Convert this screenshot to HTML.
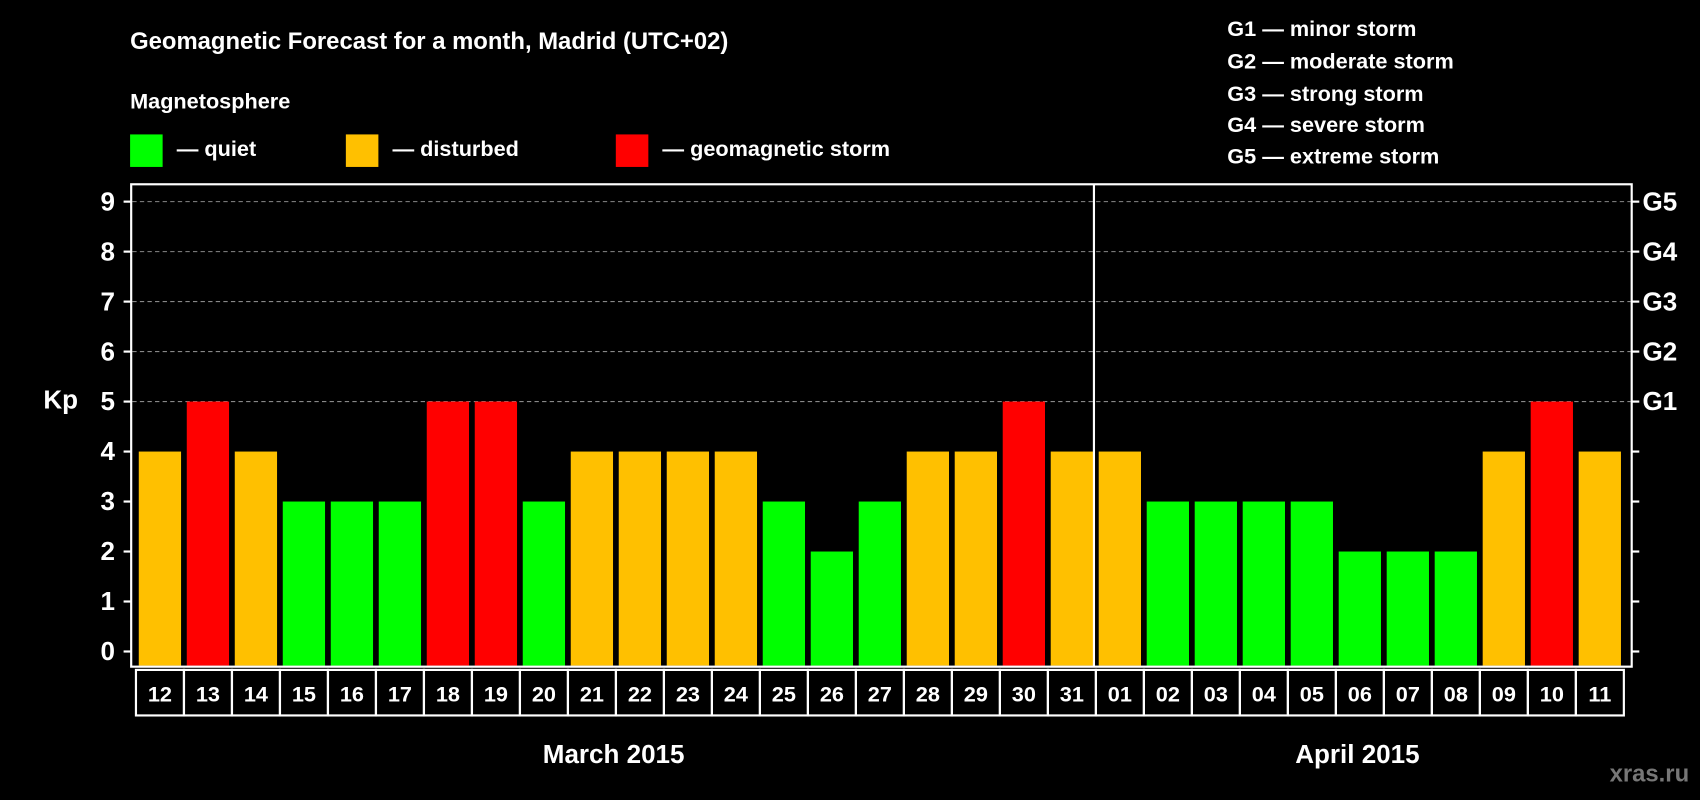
<!DOCTYPE html>
<html><head><meta charset="utf-8"><style>
html,body{margin:0;padding:0;background:#000;}
svg{display:block;font-family:"Liberation Sans",Arial,sans-serif;font-weight:bold;}
</style></head><body>
<svg id="chart" width="1700" height="800" viewBox="0 0 1568 738" preserveAspectRatio="none" xmlns="http://www.w3.org/2000/svg">
<rect width="1568" height="738" fill="#000"/>
<text x="120" y="45" fill="#fff" font-size="22">Geomagnetic Forecast for a month, Madrid (UTC+02)</text>
<text x="120" y="100" fill="#fff" font-size="20">Magnetosphere</text>
<g><rect x="120" y="124" width="30" height="30" fill="#00ff00"/><text x="163" y="144" fill="#fff" font-size="20">— quiet</text></g>
<g><rect x="319" y="124" width="30" height="30" fill="#ffc000"/><text x="362" y="144" fill="#fff" font-size="20">— disturbed</text></g>
<g><rect x="568" y="124" width="30" height="30" fill="#ff0000"/><text x="611" y="144" fill="#fff" font-size="20">— geomagnetic storm</text></g>
<g fill="#fff" font-size="20">
<text x="1132" y="33">G1 — minor storm</text>
<text x="1132" y="63">G2 — moderate storm</text>
<text x="1132" y="93">G3 — strong storm</text>
<text x="1132" y="122">G4 — severe storm</text>
<text x="1132" y="151">G5 — extreme storm</text>
</g>
<text x="40" y="377" fill="#fff" font-size="24">Kp</text>
<g id="grid"></g>
<g id="bars"></g>
<rect x="121" y="170" width="1384" height="445" fill="none" stroke="#fff" stroke-width="2"/>
<g id="axes"></g>
<g id="xlabels"></g>
<text x="566" y="704" fill="#fff" font-size="24" text-anchor="middle">March 2015</text>
<text x="1252" y="704" fill="#fff" font-size="24" text-anchor="middle">April 2015</text>
<text x="1558" y="721" fill="#777" font-size="22" text-anchor="end">xras.ru</text>
</svg>
<script>
const days = ["12","13","14","15","16","17","18","19","20","21","22","23","24","25","26","27","28","29","30","31","01","02","03","04","05","06","07","08","09","10","11"];
const kpValues = [4,5,4,3,3,3,5,5,3,4,4,4,4,3,2,3,4,4,5,4,4,3,3,3,3,2,2,2,4,5,4];
const yTicks = [0,1,2,3,4,5,6,7,8,9];
const gLabels = ["","","","","","G1","G2","G3","G4","G5"];
const NS="http://www.w3.org/2000/svg";
const y = v => 601 - v*46.11;
const xc = i => 147.5 + i*44.27;
const color = v => v>=5 ? "#ff0000" : (v>=4 ? "#ffc000" : "#00ff00");
function mk(tag, attrs, parent){const e=document.createElementNS(NS,tag);for(const k in attrs)e.setAttribute(k,attrs[k]);parent.appendChild(e);return e;}
const grid=document.getElementById('grid'), bars=document.getElementById('bars'), axes=document.getElementById('axes'), xl=document.getElementById('xlabels');
yTicks.forEach((t,i)=>{
  if(t>=5){
    const gl=mk('line',{x1:122,x2:1504,y1:y(t),y2:y(t),stroke:'#888','stroke-dasharray':'4 3','stroke-width':1},grid);
    
    
  }
  const tl=mk('line',{x1:114,x2:121,y1:y(t),y2:y(t),stroke:'#fff','stroke-width':2},axes);
  
  
  const tr=mk('line',{x1:1505,x2:1512,y1:y(t),y2:y(t),stroke:'#fff','stroke-width':2},axes);
  
  
  const lab=mk('text',{x:106,y:y(t)+8,fill:'#fff','font-size':24,'text-anchor':'end'},axes);
  lab.textContent=t;
  
  
  if(gLabels[i]){
    const g=mk('text',{x:1515,y:y(t)+8,fill:'#fff','font-size':24},axes);
    g.textContent=gLabels[i];
    
    
  }
});
kpValues.forEach((v,i)=>{
  const b=mk('rect',{x:xc(i)-19.5,y:y(v),width:39,height:y(0)-y(v)+13,fill:color(v)},bars);
  
  
});
const sep=mk('line',{x1:1009,x2:1009,y1:170,y2:615,stroke:'#fff','stroke-width':2},axes);


days.forEach((d,i)=>{
  const c=mk('rect',{x:xc(i)-22.1,y:618,width:44.27,height:42,fill:'none',stroke:'#fff','stroke-width':2},xl);
  
  
  const t=mk('text',{x:xc(i),y:647,fill:'#fff','font-size':20,'text-anchor':'middle'},xl);
  t.textContent=d;
  
  
});
</script>
</body></html>
